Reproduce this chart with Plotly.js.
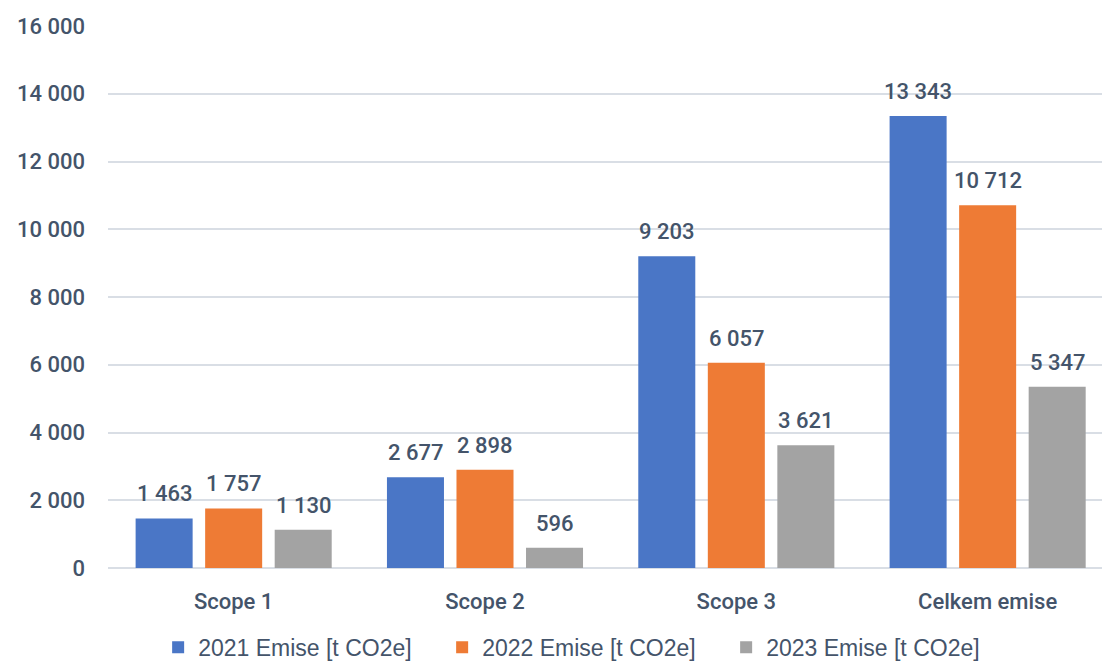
<!DOCTYPE html>
<html>
<head>
<meta charset="utf-8">
<script src="https://cdn.plot.ly/plotly-3.0.1.min.js"></script>
<style>html,body{margin:0;padding:0;overflow:hidden;background:#fff}#chart{width:1102px;height:662px}</style>
</head>
<body>
<div id="chart"></div>
<script>
var categories = ["Scope 1", "Scope 2", "Scope 3", "Celkem emise"];
var seriesNames = ["2021 Emise [t CO2e]", "2022 Emise [t CO2e]", "2023 Emise [t CO2e]"];
var values2021 = [1463, 2677, 9203, 13343];
var values2022 = [1757, 2898, 6057, 10712];
var values2023 = [1130, 596, 3621, 5347];
var yTickVals = [0, 2000, 4000, 6000, 8000, 10000, 12000, 14000, 16000];
var yTickText = ["0", "2 000", "4 000", "6 000", "8 000", "10 000", "12 000", "14 000", "16 000"];

var colors = ["#4a76c6", "#ee7b35", "#a3a3a3"];
var allValues = [values2021, values2022, values2023];
var textColor = "#44546a";
var mainFont = "Roboto, 'DejaVu Sans', sans-serif";

function fmt(v) { return String(v).replace(/\B(?=(\d{3})+(?!\d))/g, " "); }

var bargap = 0.17, bargroupgap = 0.18;
var slot = (1 - bargap) / 3;

var traces = allValues.map(function (vals, i) {
  return {
    type: "bar",
    name: seriesNames[i],
    x: categories,
    y: vals,
    marker: { color: colors[i] },
    hoverinfo: "skip"
  };
});

var annotations = [];
allValues.forEach(function (vals, i) {
  vals.forEach(function (v, j) {
    annotations.push({
      x: j + (i - 1) * slot,
      y: v,
      xref: "x", yref: "y",
      text: fmt(v),
      showarrow: false,
      yanchor: "bottom",
      yshift: 10,
      font: { family: mainFont, size: 22, color: textColor, weight: 500 }
    });
  });
});

var layout = {
  width: 1102, height: 662,
  margin: { l: 108, r: 0, t: 26, b: 94, autoexpand: false },
  paper_bgcolor: "#ffffff", plot_bgcolor: "#ffffff",
  barmode: "group",
  bargap: bargap,
  bargroupgap: bargroupgap,
  showlegend: true,
  legend: {
    orientation: "h",
    xref: "container", yref: "paper",
    x: 0.1435, xanchor: "left",
    y: -0.1462, yanchor: "middle",
    entrywidth: 239,
    font: { family: "'Liberation Sans', Arial, sans-serif", size: 23, color: textColor },
    traceorder: "normal",
    itemclick: false
  },
  xaxis: {
    type: "category",
    range: [-0.5, 3.455],
    showgrid: false,
    zeroline: false,
    showline: false,
    ticks: "",
    ticklabelstandoff: 18,
    tickfont: { family: mainFont, size: 22, color: textColor, weight: 500 },
    fixedrange: true
  },
  yaxis: {
    range: [0, 16000],
    tickvals: yTickVals,
    ticktext: yTickText,
    showgrid: true,
    gridcolor: "#d9dee5",
    gridwidth: 2,
    zeroline: true,
    zerolinecolor: "#d9dee5",
    zerolinewidth: 2,
    showline: false,
    ticks: "",
    ticklabelstandoff: 22,
    tickfont: { family: mainFont, size: 22, color: textColor, weight: 500 },
    fixedrange: true
  },
  annotations: annotations
};

Plotly.newPlot("chart", traces, layout, { displayModeBar: false, staticPlot: true });
</script>
</body>
</html>
